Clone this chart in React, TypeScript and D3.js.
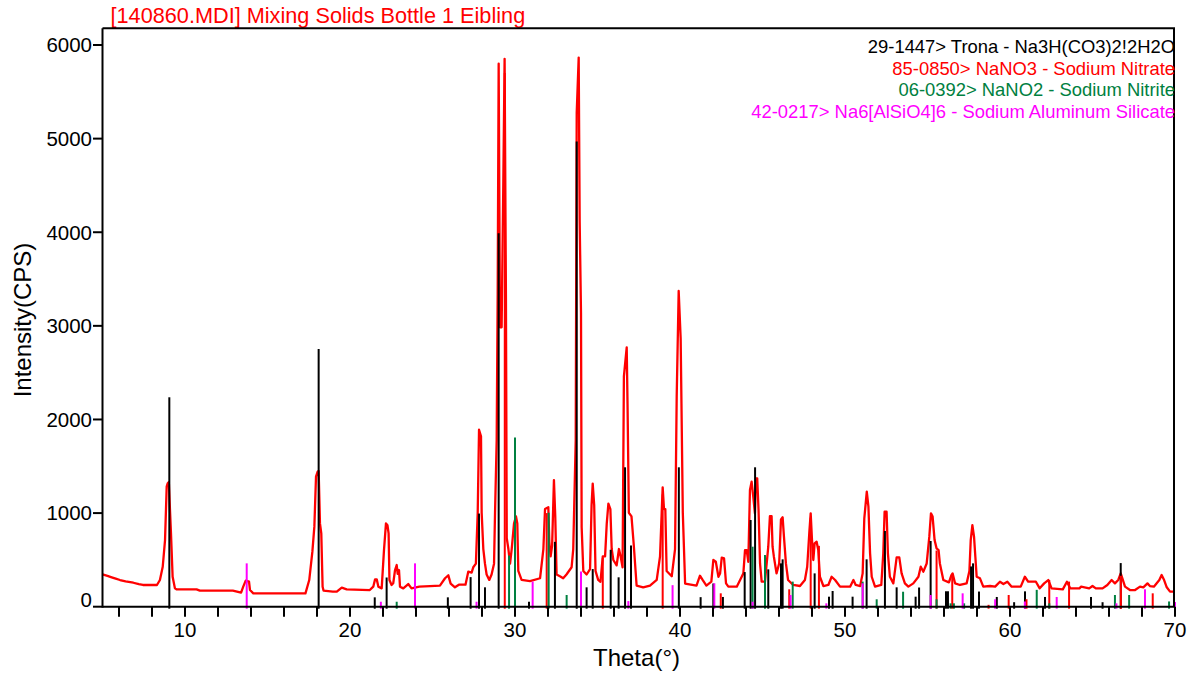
import React from "react";
import * as d3 from "d3";

const W = 1200;
const H = 679;

const titleText = "[140860.MDI] Mixing Solids Bottle 1 Eibling";
const xLabel = "Theta(°)";
const yLabel = "Intensity(CPS)";

const xTickValues = d3.range(6, 71, 2);
const xTickLabels = [10, 20, 30, 40, 50, 60, 70];
const yTickValues = [0, 1000, 2000, 3000, 4000, 5000, 6000];

const legendNames = [
  "29-1447> Trona - Na3H(CO3)2!2H2O",
  "85-0850> NaNO3 - Sodium Nitrate",
  "06-0392> NaNO2 - Sodium Nitrite",
  "42-0217> Na6[AlSiO4]6 - Sodium Aluminum Silicate",
];
const legendColors = ["#000000", "#ff0000", "#008040", "#ff00ff"];

// measured pattern: [2theta, CPS]
const spectrum: [number, number][] = [
  [5.0, 346], [5.3, 330], [5.56, 314], [5.8, 300], [6.06, 285], [6.4, 270], [6.87, 256],
  [7.2, 240], [7.45, 232], [8.3, 232], [8.48, 285], [8.65, 427], [8.79, 712], [8.89, 1282],
  [8.95, 1318], [9.02, 1330], [9.09, 1033], [9.15, 787], [9.25, 320], [9.39, 196], [9.5, 185],
  [10.7, 185], [10.9, 171], [12.9, 171], [13.4, 150], [13.53, 214], [13.68, 278], [13.88, 267],
  [13.94, 178], [14.14, 143], [17.3, 143], [17.53, 285], [17.72, 588], [17.84, 855],
  [17.94, 1389], [18.04, 1442], [18.1, 1450], [18.18, 890], [18.26, 784], [18.34, 214],
  [18.4, 171], [18.96, 160], [19.2, 160], [19.5, 203], [19.8, 185], [21.2, 178], [21.41, 214],
  [21.52, 292], [21.62, 292], [21.72, 214], [21.92, 196], [22.06, 605], [22.18, 890],
  [22.27, 870], [22.34, 784], [22.39, 285], [22.52, 232], [22.62, 250], [22.73, 392],
  [22.83, 445], [22.89, 350], [22.97, 392], [23.03, 214], [23.23, 196], [23.53, 242],
  [23.73, 196], [24.2, 214], [24.85, 220], [25.45, 226], [25.76, 304], [25.96, 335],
  [26.1, 247], [26.36, 207], [26.6, 235], [27.0, 235], [27.17, 375], [27.37, 365], [27.47, 421],
  [27.63, 460], [27.74, 1004], [27.82, 1890], [27.94, 1819], [27.98, 1004], [28.08, 616],
  [28.18, 460], [28.28, 344], [28.44, 286], [28.58, 344], [28.73, 460], [28.79, 1004],
  [28.89, 1780], [28.95, 3335], [29.01, 5801], [29.09, 2985], [29.19, 2985], [29.29, 4499],
  [29.37, 5852], [29.45, 3335], [29.5, 732], [29.6, 616], [29.7, 460], [29.8, 616], [29.94, 888],
  [30.06, 965], [30.14, 888], [30.2, 382], [30.4, 286], [30.91, 274], [31.52, 304], [31.72, 616],
  [31.82, 1043], [32.02, 1063], [32.08, 693], [32.16, 538], [32.25, 654], [32.36, 1353],
  [32.44, 965], [32.52, 344], [32.72, 325], [32.92, 304], [33.12, 344], [33.43, 421],
  [33.53, 616], [33.68, 1780], [33.74, 5276], [33.86, 5866], [33.92, 4111], [34.0, 3141],
  [34.04, 848], [34.14, 382], [34.34, 344], [34.55, 402], [34.64, 1082], [34.71, 1315],
  [34.8, 1082], [34.88, 382], [35.04, 286], [35.18, 266], [35.32, 538], [35.46, 538],
  [35.56, 888], [35.66, 1101], [35.78, 1043], [35.86, 616], [35.96, 499], [36.16, 441],
  [36.3, 616], [36.4, 538], [36.52, 421], [36.6, 2460], [36.77, 2771], [36.82, 2169],
  [36.9, 1004], [37.06, 965], [37.2, 654], [37.37, 226], [37.77, 207], [38.18, 226],
  [38.59, 286], [38.79, 538], [38.89, 1004], [38.95, 1275], [39.03, 1043], [39.11, 1043],
  [39.19, 382], [39.5, 325], [39.7, 616], [39.8, 2247], [39.92, 3373], [40.04, 2868],
  [40.17, 1004], [40.31, 247], [41.0, 226], [41.21, 331], [41.37, 286], [41.6, 226],
  [41.9, 267], [42.02, 499], [42.17, 480], [42.33, 320], [42.43, 356], [42.53, 524],
  [42.67, 516], [42.79, 249], [42.93, 214], [43.44, 214], [43.74, 320], [43.84, 356],
  [43.94, 605], [44.04, 605], [44.14, 480], [44.24, 1247], [44.34, 1335], [44.44, 1175],
  [44.54, 997], [44.6, 1371], [44.68, 1371], [44.76, 1033], [44.85, 462], [44.95, 267],
  [45.15, 267], [45.35, 641], [45.45, 968], [45.55, 968], [45.61, 641], [45.69, 534],
  [45.85, 356], [46.01, 462], [46.12, 933], [46.22, 955], [46.3, 748], [46.42, 462],
  [46.55, 285], [46.86, 232], [47.27, 221], [47.57, 285], [47.71, 427], [47.84, 801],
  [47.92, 997], [48.0, 712], [48.08, 499], [48.16, 677], [48.28, 694], [48.38, 605],
  [48.48, 320], [48.69, 221], [48.99, 232], [49.19, 320], [49.4, 285], [49.7, 214],
  [50.31, 214], [50.51, 285], [50.65, 232], [50.92, 221], [51.07, 356], [51.17, 944],
  [51.32, 1229], [51.42, 1068], [51.52, 570], [51.62, 320], [51.82, 214], [52.2, 232],
  [52.32, 570], [52.4, 1015], [52.52, 1015], [52.6, 570], [52.72, 320], [52.93, 249],
  [53.13, 527], [53.29, 527], [53.43, 356], [53.63, 249], [53.84, 214], [54.14, 249],
  [54.45, 320], [54.59, 427], [54.75, 374], [54.95, 462], [55.11, 748], [55.21, 997],
  [55.31, 962], [55.43, 712], [55.55, 623], [55.67, 605], [55.75, 462], [55.96, 285],
  [56.3, 260], [56.45, 338], [56.52, 356], [56.67, 250], [56.97, 232], [57.37, 249],
  [57.54, 380], [57.62, 712], [57.72, 872], [57.82, 748], [57.9, 534], [57.98, 320],
  [58.18, 303], [58.38, 214], [58.79, 221], [59.1, 214], [59.39, 267], [59.6, 242],
  [59.84, 267], [60.1, 214], [60.65, 214], [60.9, 320], [61.1, 267], [61.57, 267],
  [61.8, 196], [62.07, 249], [62.32, 285], [62.52, 196], [63.2, 185], [63.45, 267],
  [63.65, 196], [64.21, 196], [64.31, 214], [64.8, 196], [65.0, 221], [65.2, 196],
  [65.61, 196], [65.9, 232], [66.16, 285], [66.36, 249], [66.56, 285], [66.71, 356],
  [66.81, 303], [66.97, 214], [67.27, 178], [67.58, 178], [67.88, 214], [68.08, 207],
  [68.33, 249], [68.48, 221], [68.72, 214], [69.05, 285], [69.19, 338], [69.34, 285],
  [69.5, 207], [69.7, 161], [70.0, 161],
];

// reference stick patterns: [2theta, height in CPS]
const tronaSticks: [number, number][] = [
  [9.05, 2237], [18.1, 2753], [21.5, 100], [22.22, 312], [25.93, 100], [27.31, 316],
  [27.82, 995], [28.18, 207], [29.01, 3990], [30.85, 53], [32.42, 693], [33.74, 4970],
  [34.34, 207], [34.71, 402], [35.8, 608], [36.28, 314], [36.67, 1489], [37.03, 654],
  [39.93, 1489], [41.25, 102], [42.02, 248], [42.6, 104], [43.92, 370], [44.28, 926],
  [44.55, 1489], [45.35, 399], [46.12, 463], [46.22, 506], [48.16, 356], [49.03, 107],
  [49.25, 168], [50.46, 107], [51.31, 506], [52.42, 809], [53.13, 207], [54.28, 107],
  [54.49, 205], [55.19, 702], [56.12, 165], [56.24, 165], [57.64, 430], [57.76, 463],
  [58.12, 162], [59.2, 104], [60.25, 48], [60.91, 164], [62.12, 104], [64.91, 104],
  [65.61, 48], [66.71, 466],
];
const nitrateSticks: [number, number][] = [
  [29.38, 5700], [31.92, 1000], [35.32, 520], [38.95, 1200], [42.47, 143], [46.62, 186],
  [47.92, 950], [48.42, 650], [55.55, 600], [56.5, 350], [58.7, 20], [59.92, 125],
  [61.0, 80], [62.38, 285], [63.58, 268], [66.72, 330], [68.65, 143],
];
const nitriteSticks: [number, number][] = [
  [22.83, 53], [29.64, 546], [30.0, 1808], [32.04, 1004], [33.13, 125], [44.4, 641],
  [45.15, 552], [46.83, 268], [51.07, 268], [51.92, 79], [53.52, 160], [55.55, 79],
  [56.4, 36], [56.6, 36], [57.22, 36], [61.62, 180], [62.38, 36], [66.36, 125],
  [67.22, 125], [69.64, 56],
];
const silicateSticks: [number, number][] = [
  [13.74, 463], [21.87, 53], [23.94, 463], [27.67, 53], [31.07, 268], [34.0, 375],
  [36.87, 60], [39.55, 230], [42.08, 250], [44.4, 53], [46.7, 125], [48.87, 36],
  [51.07, 250], [55.19, 125], [57.13, 143], [59.1, 79], [60.9, 56], [62.83, 104],
  [66.45, 36], [68.18, 186], [70.0, 50],
];

const stickSets = [tronaSticks, nitrateSticks, nitriteSticks, silicateSticks];

const FONT = "'Liberation Sans', Arial, Helvetica, sans-serif";

export default function App() {
  const x = d3.scaleLinear().domain([5, 70]).range([102.5, 1175]);
  const y = d3.scaleLinear().domain([0, 6000]).range([606.7, 45]);
  const line = d3
    .line<[number, number]>()
    .x((d) => x(d[0]))
    .y((d) => y(d[1]));

  const x0 = x(5);
  const x1 = x(70);
  const yBase = y(0);
  const yTop = 28.3;

  return (
    <svg
      width={W}
      height={H}
      style={{ position: "absolute", left: 0, top: 0, background: "#fff" }}
      fontFamily={FONT}
    >
      <rect width={W} height={H} fill="#fff" />
      <text x={110.5} y={22.5} fontSize={21.7} fill="#ff0000">
        {titleText}
      </text>

      {/* spectrum */}
      <path
        d={line(spectrum) || ""}
        fill="none"
        stroke="#ff0000"
        strokeWidth={2.3}
        strokeLinejoin="round"
      />

      {/* stick patterns */}
      {stickSets.map((set, si) => (
        <g key={si} stroke={legendColors[si]} strokeWidth={2}>
          {set.map((d, i) => (
            <line key={i} x1={x(d[0])} x2={x(d[0])} y1={yBase + 2} y2={y(d[1])} />
          ))}
        </g>
      ))}

      {/* frame */}
      <g stroke="#000" strokeWidth={2} fill="none">
        <line x1={x0} x2={x1} y1={yTop} y2={yTop} />
        <line x1={x1 - 1} x2={x1 - 1} y1={yTop} y2={yBase} />
        <line x1={x0} x2={x0} y1={yTop} y2={yBase + 1} />
        <line x1={x0} x2={x1} y1={yBase} y2={yBase} />
      </g>

      {/* y ticks */}
      {yTickValues.map((v) => (
        <g key={v}>
          <line x1={93} x2={x0} y1={y(v)} y2={y(v)} stroke="#000" strokeWidth={2} />
          <text
            x={92}
            y={v === 0 ? y(v) : y(v) + 7.3}
            fontSize={20.5}
            textAnchor="end"
            fill="#000"
          >
            {v}
          </text>
        </g>
      ))}

      {/* x ticks */}
      {xTickValues.map((v) => (
        <line key={v} x1={x(v)} x2={x(v)} y1={yBase} y2={yBase + 10} stroke="#000" strokeWidth={2} />
      ))}
      {xTickLabels.map((v) => (
        <text key={v} x={x(v)} y={637} fontSize={20.5} textAnchor="middle" fill="#000">
          {v}
        </text>
      ))}

      {/* axis titles */}
      <text x={636.5} y={666} fontSize={24} textAnchor="middle" fill="#000">
        {xLabel}
      </text>
      <text
        transform="translate(31,320) rotate(-90)"
        fontSize={24}
        textAnchor="middle"
        fill="#000"
      >
        {yLabel}
      </text>

      {/* legend */}
      {legendNames.map((n, i) => (
        <text
          key={n}
          x={1175}
          y={53 + i * 21.5}
          fontSize={18.4}
          textAnchor="end"
          fill={legendColors[i]}
        >
          {n}
        </text>
      ))}
    </svg>
  );
}
